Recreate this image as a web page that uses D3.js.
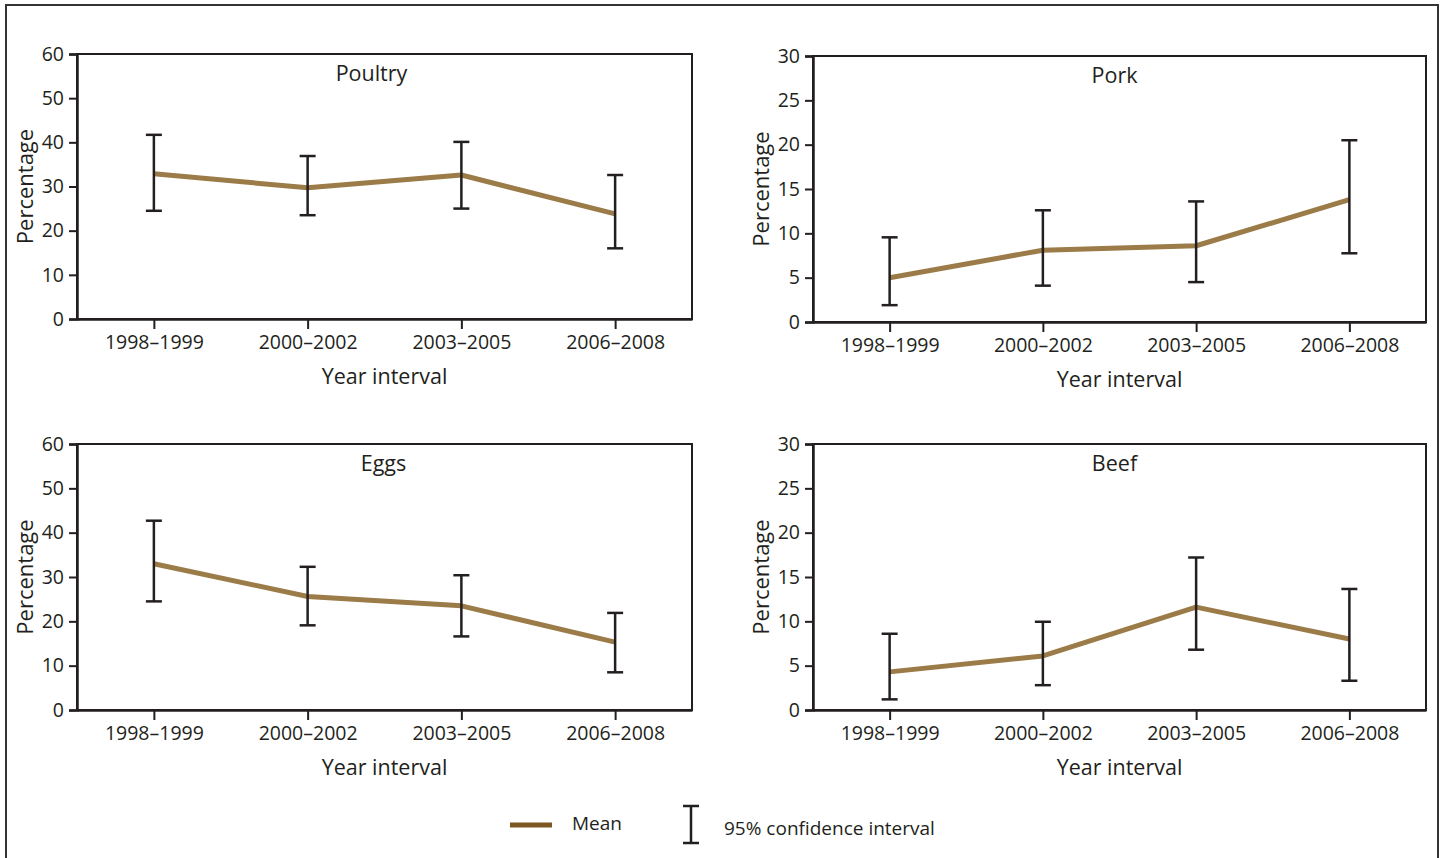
<!DOCTYPE html>
<html><head><meta charset="utf-8">
<script src="https://cdn.jsdelivr.net/npm/d3@7"></script>
<style>
html,body{margin:0;padding:0;background:#fff;}
svg text{font-family:"Open Sans","Noto Sans",sans-serif;fill:#231f20;}
</style></head>
<body><svg id="c" width="1445" height="858"></svg>
<script>
const categories = ["1998–1999", "2000–2002", "2003–2005", "2006–2008"];
const titles = ["Poultry", "Pork", "Eggs", "Beef"];

const poultryMean  = [32.9, 29.7, 32.6, 23.8];
const poultryLower = [24.5, 23.5, 25.0, 16.0];
const poultryUpper = [41.7, 36.9, 40.1, 32.6];

const porkMean  = [5.0, 8.1, 8.6, 13.8];
const porkLower = [1.9, 4.1, 4.5, 7.75];
const porkUpper = [9.55, 12.6, 13.6, 20.5];

const eggsMean  = [33.0, 25.6, 23.5, 15.3];
const eggsLower = [24.5, 19.1, 16.6, 8.5];
const eggsUpper = [42.7, 32.3, 30.4, 21.9];

const beefMean  = [4.3, 6.1, 11.6, 8.0];
const beefLower = [1.2, 2.8, 6.8, 3.3];
const beefUpper = [8.6, 9.95, 17.2, 13.65];

const ticks60 = [0, 10, 20, 30, 40, 50, 60];
const ticks30 = [0, 5, 10, 15, 20, 25, 30];

const yLabel = "Percentage";
const xLabel = "Year interval";
const legendMean = "Mean";
const legendCI = "95% confidence interval";

const panels = [
  {title: titles[0], mean: poultryMean, lo: poultryLower, hi: poultryUpper, ticks: ticks60, x0: 77,  x1: 692,  y0: 54,  y1: 319, tdx: -13},
  {title: titles[1], mean: porkMean,    lo: porkLower,    hi: porkUpper,    ticks: ticks30, x0: 813, x1: 1426, y0: 56,  y1: 322, tdx: -5},
  {title: titles[2], mean: eggsMean,    lo: eggsLower,    hi: eggsUpper,    ticks: ticks60, x0: 77,  x1: 692,  y0: 444, y1: 710, tdx: -1},
  {title: titles[3], mean: beefMean,    lo: beefLower,    hi: beefUpper,    ticks: ticks30, x0: 813, x1: 1426, y0: 444, y1: 710, tdx: -5}
];

const LINE = "#9b7b47", DARK = "#231f20", LEG = "#7d5722";
const svg = d3.select("#c");

svg.append("rect").attr("x", 6).attr("y", 5).attr("width", 1432).attr("height", 880)
  .attr("fill", "none").attr("stroke", "#333").attr("stroke-width", 2);

panels.forEach(p => {
  const x = d3.scalePoint().domain(categories).range([p.x0, p.x1]).padding(0.5);
  const y = d3.scaleLinear().domain([0, d3.max(p.ticks)]).range([p.y1, p.y0]);
  const g = svg.append("g");

  g.append("rect").attr("x", p.x0).attr("y", p.y0).attr("width", p.x1 - p.x0).attr("height", p.y1 - p.y0)
    .attr("fill", "none").attr("stroke", DARK).attr("stroke-width", 2);

  const ya = g.append("g").attr("transform", `translate(${p.x0},0)`)
    .call(d3.axisLeft(y).tickValues(p.ticks).tickSize(8).tickPadding(5).tickFormat(d3.format("d")));
  ya.select(".domain").attr("stroke", DARK).attr("stroke-width", 2.5);
  ya.selectAll(".tick line").attr("stroke", DARK).attr("stroke-width", 2);
  ya.selectAll(".tick text").attr("font-size", 19.5).attr("fill", DARK).attr("font-family", "Open Sans");

  const xa = g.append("g").attr("transform", `translate(0,${p.y1})`)
    .call(d3.axisBottom(x).tickSize(10).tickPadding(6).tickSizeOuter(0));
  xa.select(".domain").attr("stroke", DARK).attr("stroke-width", 2.5);
  xa.selectAll(".tick line").attr("stroke", DARK).attr("stroke-width", 2);
  xa.selectAll(".tick text").attr("font-size", 19.5).attr("fill", DARK).attr("font-family", "Open Sans");

  g.append("text").attr("x", (p.x0 + p.x1) / 2 + p.tdx).attr("y", p.y0 + 27)
    .attr("text-anchor", "middle").attr("font-size", 21.5).text(p.title);

  g.append("text").attr("x", (p.x0 + p.x1) / 2).attr("y", p.y1 + 65)
    .attr("text-anchor", "middle").attr("font-size", 21.5).text(xLabel);

  g.append("text").attr("transform", `translate(${p.x0 - 44},${(p.y0 + p.y1) / 2}) rotate(-90)`)
    .attr("text-anchor", "middle").attr("font-size", 22).text(yLabel);

  const pts = categories.map((c, i) => ({c, m: p.mean[i], lo: p.lo[i], hi: p.hi[i]}));

  g.append("path").datum(pts)
    .attr("d", d3.line().x(d => x(d.c)).y(d => y(d.m)))
    .attr("fill", "none").attr("stroke", LINE).attr("stroke-width", 5).attr("stroke-linejoin", "round");

  const eb = g.selectAll(".eb").data(pts).enter().append("g").attr("stroke", DARK).attr("stroke-width", 2.5);
  eb.append("line").attr("x1", d => x(d.c)).attr("x2", d => x(d.c)).attr("y1", d => y(d.lo)).attr("y2", d => y(d.hi));
  eb.append("line").attr("x1", d => x(d.c) - 8).attr("x2", d => x(d.c) + 8).attr("y1", d => y(d.lo)).attr("y2", d => y(d.lo));
  eb.append("line").attr("x1", d => x(d.c) - 8).attr("x2", d => x(d.c) + 8).attr("y1", d => y(d.hi)).attr("y2", d => y(d.hi));
});

const lg = svg.append("g");
lg.append("line").attr("x1", 510).attr("x2", 552).attr("y1", 825).attr("y2", 825)
  .attr("stroke", LEG).attr("stroke-width", 5);
lg.append("text").attr("x", 572).attr("y", 830).attr("font-size", 19).text(legendMean);
lg.append("line").attr("x1", 691).attr("x2", 691).attr("y1", 806).attr("y2", 843).attr("stroke", DARK).attr("stroke-width", 2.5);
lg.append("line").attr("x1", 683).attr("x2", 699).attr("y1", 806).attr("y2", 806).attr("stroke", DARK).attr("stroke-width", 2.5);
lg.append("line").attr("x1", 683).attr("x2", 699).attr("y1", 843).attr("y2", 843).attr("stroke", DARK).attr("stroke-width", 2.5);
lg.append("text").attr("x", 724).attr("y", 835).attr("font-size", 19).text(legendCI);
</script></body></html>
